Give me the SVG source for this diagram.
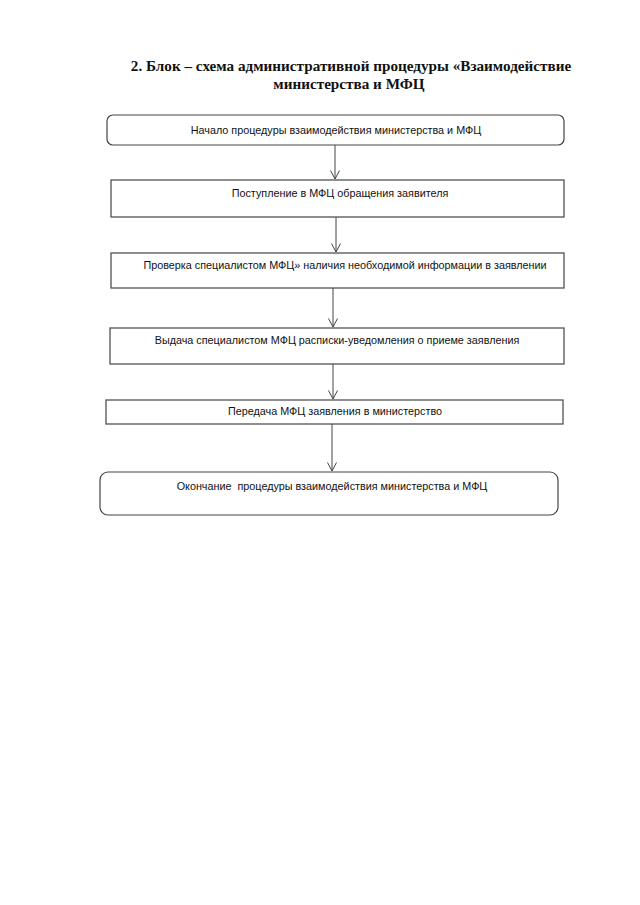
<svg xmlns="http://www.w3.org/2000/svg" width="640" height="905" viewBox="0 0 640 905">
<defs>
<style>
.box{fill:#fff;stroke:#444;stroke-width:1.2}
.t{font-family:"Liberation Sans","DejaVu Sans",sans-serif;font-size:10.8px;fill:#111;text-anchor:middle}
.h{font-family:"Liberation Serif","Times New Roman",serif;font-size:15.2px;font-weight:bold;fill:#111;text-anchor:middle}
.c{stroke:#444;stroke-width:1;fill:none}
</style>
<marker id="ah" viewBox="0 0 10 10" refX="9.5" refY="5" markerWidth="10" markerHeight="10" markerUnits="userSpaceOnUse" orient="auto">
<path d="M1,0.5 L9.5,5 L1,9.5" fill="none" stroke="#444" stroke-width="1"/>
</marker>
</defs>
<rect width="640" height="905" fill="#fff"/>
<g id="title">
<text class="h" x="351" y="71">2. Блок – схема административной процедуры «Взаимодействие</text>
<text class="h" x="349" y="89">министерства и МФЦ</text>
</g>
<g id="connectors">
<line class="c" x1="335" y1="145" x2="335" y2="179" marker-end="url(#ah)"/>
<line class="c" x1="336" y1="217" x2="336" y2="252" marker-end="url(#ah)"/>
<line class="c" x1="333" y1="288" x2="333" y2="327" marker-end="url(#ah)"/>
<line class="c" x1="333" y1="364" x2="333" y2="399" marker-end="url(#ah)"/>
<line class="c" x1="332" y1="424" x2="332" y2="471" marker-end="url(#ah)"/>
</g>
<g id="n1">
<rect class="box" x="107" y="115" width="457" height="30" rx="6"/>
<text class="t" x="336" y="134">Начало процедуры взаимодействия министерства и МФЦ</text>
</g>
<g id="n2">
<rect class="box" x="111" y="180" width="453" height="37"/>
<text class="t" x="340" y="197">Поступление в МФЦ обращения заявителя</text>
</g>
<g id="n3">
<rect class="box" x="111" y="253" width="453" height="35"/>
<text class="t" x="345" y="269">Проверка специалистом МФЦ» наличия необходимой информации в заявлении</text>
</g>
<g id="n4">
<rect class="box" x="110" y="328" width="454" height="36"/>
<text class="t" x="337" y="344">Выдача специалистом МФЦ расписки-уведомления о приеме заявления</text>
</g>
<g id="n5">
<rect class="box" x="106" y="400" width="457" height="24"/>
<text class="t" x="335" y="415">Передача МФЦ заявления в министерство</text>
</g>
<g id="n6">
<rect class="box" x="100" y="472" width="458" height="43" rx="8"/>
<text class="t" x="332" y="490" xml:space="preserve">Окончание  процедуры взаимодействия министерства и МФЦ</text>
</g>
</svg>
